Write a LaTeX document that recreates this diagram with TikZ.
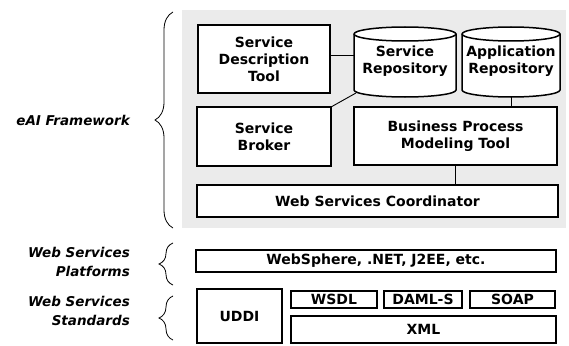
\documentclass[tikz,border=0pt]{standalone}
\usepackage{fontspec}
\setmainfont{DejaVu Sans}
\usetikzlibrary{decorations.pathreplacing,calc}

\newcommand{\boxfont}{\fontsize{14}{17}\selectfont\bfseries}
\newcommand{\sidefont}{\fontsize{13.5}{19}\selectfont\bfseries\itshape}

\tikzset{
  box/.style={draw, line width=1.3pt, fill=white, align=center,
              inner sep=0pt, outer sep=0pt, font=\boxfont},
  store/.style={inner sep=0pt, outer sep=0pt, align=center, font=\boxfont},
  drum/.style={fill=white, draw=black, line width=1.5pt},
  link/.style={line width=0.9pt},
  sidelabel/.style={anchor=east, align=right, font=\sidefont, inner sep=0pt},
  layerbrace/.style={decorate, line width=0.8pt,
                     decoration={brace, amplitude=#1}},
}

% vertical cylinder filling the frame of a named node; #2 = half width
\newcommand{\drumshape}[2]{%
  \filldraw[drum]
    ($(#1.north west)+(0,-7)$) -- ($(#1.south west)+(0,7)$)
    arc[start angle=180, end angle=360, x radius=#2pt, y radius=7pt]
    -- ($(#1.north east)+(0,-7)$)
    arc[start angle=0, end angle=180, x radius=#2pt, y radius=7pt] -- cycle;
  \draw[drum, fill=none] ($(#1.north west)+(0,-7)$)
    arc[start angle=180, end angle=360, x radius=#2pt, y radius=7pt];%
}

\begin{document}
\begin{tikzpicture}[x=1pt, y=1pt]
\useasboundingbox (0,0) rectangle (569,-345);

% shaded framework area
\fill[black!8] (182,-10) rectangle (566,-228);

% framework components
\node[box, minimum width=132, minimum height=68] (sdt) at (264,-59)
  {Service\\Description\\Tool};
\node[store, minimum width=102, minimum height=70] (sr) at (405,-62) {};
\node[store, minimum width=98, minimum height=70] (ar) at (511,-62) {};
\drumshape{sr}{51}
\drumshape{ar}{49}
\node[store] at (405,-61) {Service\\Repository};
\node[store] at (511,-61) {Application\\Repository};

\node[box, minimum width=134, minimum height=59] (sb) at (264,-136.5)
  {Service\\Broker};
\node[box, minimum width=203, minimum height=58] (bpmt) at (455.5,-136)
  {Business Process\\Modeling Tool};
\node[box, minimum width=361, minimum height=32] (wsc) at (377.5,-201)
  {Web Services Coordinator};

% connectors inside the framework
\draw[link] (sdt.east) ++(0,4) -- ($(sr.west)+(0,7)$);
\draw[link] (sb.north east) -- ($(sr.south west)+(2,4)$);
\draw[link] ($(sr.south)+(-3,0)$) -- ($(sr.south)+(-3,0)$ |- bpmt.north);
\draw[link] (ar.south) -- (ar.south |- bpmt.north);
\draw[link] ($(sb.east)+(0,3)$) -- ($(sb.east)+(0,3)$ -| bpmt.west);
\draw[link] (bpmt.south) -- (bpmt.south |- wsc.north);

% platform layer
\node[box, minimum width=360, minimum height=22] (plat) at (376,-261)
  {WebSphere, .NET, J2EE, etc.};

% standards layer
\node[box, minimum width=85, minimum height=54] (uddi) at (239.5,-316) {UDDI};
\node[box, minimum width=86, minimum height=17] (wsdl) at (334,-299.5) {WSDL};
\node[box, minimum width=78, minimum height=17] (daml) at (423,-299.5) {DAML-S};
\node[box, minimum width=85, minimum height=17] (soap) at (512.5,-299.5) {SOAP};
\node[box, minimum width=265, minimum height=27] (xml) at (423.5,-329.5) {XML};

% layer labels with braces
\node[sidelabel] (lfw) at (130,-120) {eAI Framework};
\node[sidelabel] (lpl) at (130,-262) {Web Services\\Platforms};
\node[sidelabel] (lst) at (130,-311) {Web Services\\Standards};

\coordinate (bfw1) at (173,-228);
\coordinate (bfw2) at (173,-12);
\coordinate (bpl1) at (173,-285);
\coordinate (bpl2) at (173,-243);
\coordinate (bst1) at (173,-340);
\coordinate (bst2) at (173,-296);
\draw[layerbrace=18pt] (bfw1) -- (bfw2);
\draw[layerbrace=14pt] (bpl1) -- (bpl2);
\draw[layerbrace=14pt] (bst1) -- (bst2);
\end{tikzpicture}
\end{document}
